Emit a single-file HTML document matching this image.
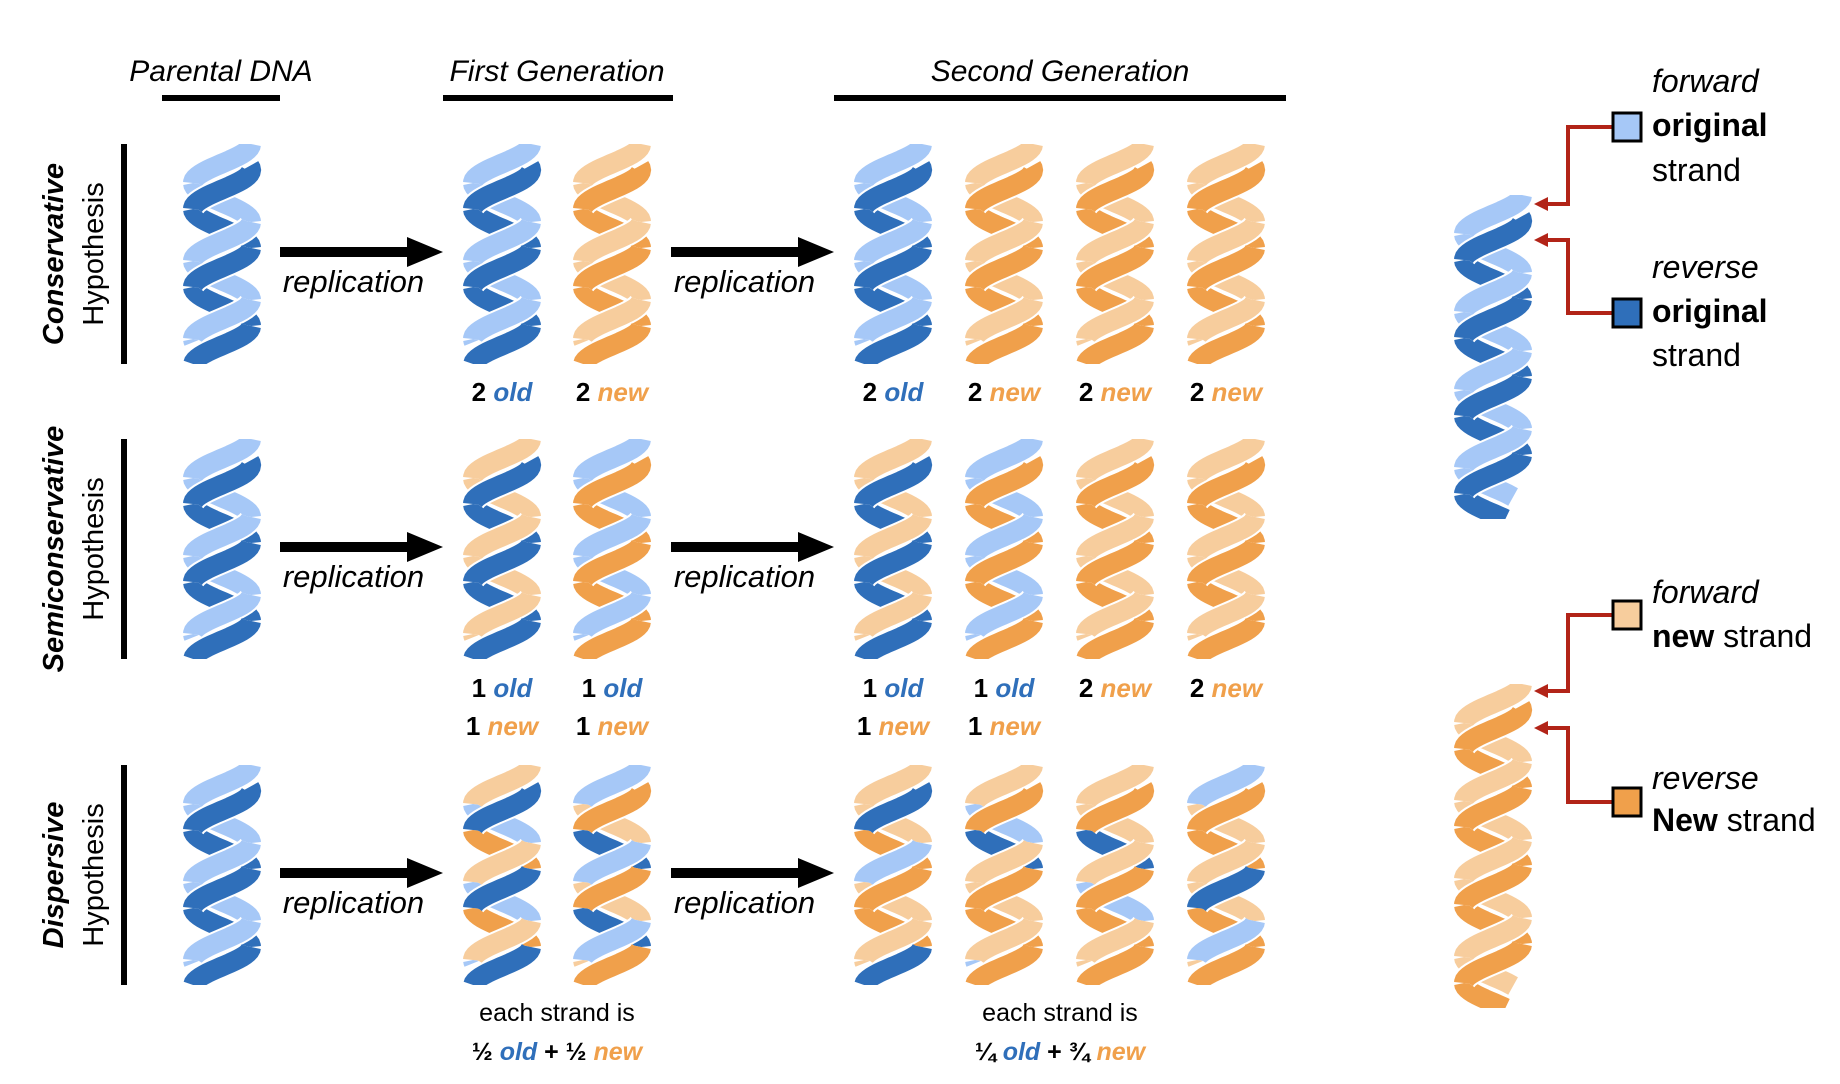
<!DOCTYPE html>
<html><head><meta charset="utf-8">
<style>
html,body{margin:0;padding:0;background:#fff;}
body{width:1840px;height:1084px;position:relative;overflow:hidden;font-family:"Liberation Sans",sans-serif;}
svg{position:absolute;left:0;top:0;}
</style></head>
<body>
<svg id="s" width="1840" height="1084" xmlns="http://www.w3.org/2000/svg" font-family="Liberation Sans, sans-serif">
<g font-style="italic" font-size="30" text-anchor="middle" fill="#000">
<text x="221" y="81">Parental DNA</text>
<text x="557" y="81">First Generation</text>
<text x="1060" y="81">Second Generation</text>
</g>
<g fill="#000">
<rect x="162" y="95" width="118" height="6"/>
<rect x="443" y="95" width="230" height="6"/>
<rect x="834" y="95" width="452" height="6"/>
<rect x="121" y="144" width="6" height="220"/>
<rect x="121" y="439" width="6" height="220"/>
<rect x="121" y="765" width="6" height="220"/>
</g>
<g font-size="29" text-anchor="middle">
<text transform="translate(63,254) rotate(-90)" font-weight="bold" font-style="italic">Conservative</text>
<text transform="translate(103,254) rotate(-90)">Hypothesis</text>
<text transform="translate(63,549) rotate(-90)" font-weight="bold" font-style="italic">Semiconservative</text>
<text transform="translate(103,549) rotate(-90)">Hypothesis</text>
<text transform="translate(63,875) rotate(-90)" font-weight="bold" font-style="italic">Dispersive</text>
<text transform="translate(103,875) rotate(-90)">Hypothesis</text>
</g>
<g id="arrows"></g>
<g id="helices"></g>
<g font-size="26" font-weight="bold" text-anchor="middle" id="labels"></g>
<g font-size="25" text-anchor="middle">
<text x="557" y="1021">each strand is</text>
<text x="1060" y="1021">each strand is</text>
<text x="557" y="1060" font-weight="bold">½ <tspan fill="#2f6fba" font-style="italic">old</tspan> + ½ <tspan fill="#f0a04b" font-style="italic">new</tspan></text>
<text x="1060" y="1060" font-weight="bold">¼ <tspan fill="#2f6fba" font-style="italic">old</tspan> + ¾ <tspan fill="#f0a04b" font-style="italic">new</tspan></text>
</g>
<!-- legend -->
<g stroke="#b22418" stroke-width="4" fill="none">
<polyline points="1612,127 1568,127 1568,204 1546,204"/>
<polyline points="1612,313 1568,313 1568,240 1546,240"/>
<polyline points="1612,615 1568,615 1568,691 1546,691"/>
<polyline points="1612,802 1568,802 1568,728 1546,728"/>
</g>
<g fill="#b22418">
<polygon points="1534,204 1548,197 1548,211"/>
<polygon points="1534,240 1548,233 1548,247"/>
<polygon points="1534,691 1548,684 1548,698"/>
<polygon points="1534,728 1548,721 1548,735"/>
</g>
<g stroke="#000" stroke-width="3">
<rect x="1613" y="113" width="28" height="28" fill="#a6c8f7"/>
<rect x="1613" y="299" width="28" height="28" fill="#2f6fba"/>
<rect x="1613" y="601" width="28" height="28" fill="#f7cd9d"/>
<rect x="1613" y="788" width="28" height="28" fill="#f0a04b"/>
</g>
<g font-size="32">
<text x="1652" y="92" font-style="italic">forward</text>
<text x="1652" y="136" font-weight="bold">original</text>
<text x="1652" y="181">strand</text>
<text x="1652" y="278" font-style="italic">reverse</text>
<text x="1652" y="322" font-weight="bold">original</text>
<text x="1652" y="366">strand</text>
<text x="1652" y="603" font-style="italic">forward</text>
<text x="1652" y="647"><tspan font-weight="bold">new</tspan> strand</text>
<text x="1652" y="789" font-style="italic">reverse</text>
<text x="1652" y="831"><tspan font-weight="bold">New</tspan> strand</text>
</g>
</svg>
<script>
var NS="http://www.w3.org/2000/svg";
var LB="#a6c8f7",DB="#2f6fba",LO="#f7cd9d",DO="#f0a04b";
var H=document.getElementById("helices");
function el(t,a,p){var e=document.createElementNS(NS,t);for(var k in a)e.setAttribute(k,a[k]);(p||H).appendChild(e);return e;}
function col(c,i){return Array.isArray(c)?c[i%c.length]:c;}
function helix(x,y,w,h,cA,cB){
  var P=78,sw=20,A=(w-sw)/2,cx=x+w/2,off=26;
  var segs=[];
  [[cA,0,y,y+h-22],[cB,off,y+22,y+h]].forEach(function(s){
    var c=s[0],o=s[1],ys=s[2],ye=s[3];
    var k=0;var start=ys;
    while(start<ye){
      var end=Math.min(y+o+(k+1)*P/2,ye);
      if(end>start+0.5){
        var pts=[];
        for(var yy=start;yy<=end+0.01;yy+=2){pts.push([cx+A*Math.cos(2*Math.PI*(yy-y-o)/P),yy]);}
        var last=pts[pts.length-1];if(last[1]<end){pts.push([cx+A*Math.cos(2*Math.PI*(end-y-o)/P),end]);}
        var dir=Math.cos(2*Math.PI*(end-y-o)/P)-Math.cos(2*Math.PI*(start-y-o)/P);
        segs.push({pts:pts,c:col(c,k),front:dir<0});
      }
      start=end;k++;
    }
  });
  var g=el("g",{});
  var cp="c"+Math.round(x)+"_"+Math.round(y);
  var cl=el("clipPath",{id:cp},g);el("rect",{x:x-5,y:y,width:w+10,height:h},cl);
  var gg=el("g",{"clip-path":"url(#"+cp+")"},g);
  [false,true].forEach(function(f){
    segs.forEach(function(s){
      if(s.front!==f)return;
      var d="M"+s.pts.map(function(p){return p[0].toFixed(1)+","+p[1].toFixed(1);}).join("L");
      if(f) el("path",{d:d,fill:"none",stroke:"#fff","stroke-width":sw+4,"stroke-linecap":"butt"},gg);
      el("path",{d:d,fill:"none",stroke:s.c,"stroke-width":sw,"stroke-linecap":"butt"},gg);
    });
  });
}
var xs=[463,573,854,965,1076,1187],W=78;
var rows=[144,439,765];
rows.forEach(function(ry){helix(183,ry,W,220,LB,DB);});
helix(463,144,W,220,LB,DB);helix(573,144,W,220,LO,DO);
helix(854,144,W,220,LB,DB);helix(965,144,W,220,LO,DO);helix(1076,144,W,220,LO,DO);helix(1187,144,W,220,LO,DO);
helix(463,439,W,220,LO,DB);helix(573,439,W,220,LB,DO);
helix(854,439,W,220,LO,DB);helix(965,439,W,220,LB,DO);helix(1076,439,W,220,LO,DO);helix(1187,439,W,220,LO,DO);
helix(463,765,W,220,[LO,LB],[DB,DO]);helix(573,765,W,220,[LB,LO],[DO,DB]);
helix(854,765,W,220,[LO,LO,LB,LO],[DB,DO,DO,DO]);
helix(965,765,W,220,[LO,LB,LO,LO],[DO,DB,DO,DO]);
helix(1076,765,W,220,[LO,LO,LO,LB],[DO,DB,DO,DO]);
helix(1187,765,W,220,[LB,LO,LO,LO],[DO,DO,DB,DO]);
helix(1454,195,W,324,LB,DB);helix(1454,684,W,324,LO,DO);
var AG=document.getElementById("arrows");
rows.forEach(function(ry){
  [[280,443],[671,834]].forEach(function(a){
    var yc=ry+108;
    el("rect",{x:a[0],y:yc-5,width:a[1]-a[0]-34,height:10,fill:"#000"},AG);
    el("polygon",{points:(a[1]-36)+","+(yc-15)+" "+a[1]+","+yc+" "+(a[1]-36)+","+(yc+15),fill:"#000"},AG);
    var t=el("text",{x:(a[0]+a[1])/2-8,y:yc+40,"text-anchor":"middle","font-size":"31","font-style":"italic"},AG);t.textContent="replication";
  });
});
var L=document.getElementById("labels");
function lab(cx,y,n,w){var t=el("text",{x:cx,y:y},L);
  t.appendChild(document.createTextNode(n+" "));
  var s=el("tspan",{fill:w=="old"?DB:DO,"font-style":"italic"},t);s.textContent=w;}
var cxs=xs.map(function(v){return v+39;});
lab(cxs[0],401,2,"old");lab(cxs[1],401,2,"new");lab(cxs[2],401,2,"old");lab(cxs[3],401,2,"new");lab(cxs[4],401,2,"new");lab(cxs[5],401,2,"new");
lab(cxs[0],697,1,"old");lab(cxs[1],697,1,"old");lab(cxs[2],697,1,"old");lab(cxs[3],697,1,"old");lab(cxs[4],697,2,"new");lab(cxs[5],697,2,"new");
lab(cxs[0],735,1,"new");lab(cxs[1],735,1,"new");lab(cxs[2],735,1,"new");lab(cxs[3],735,1,"new");
</script>
</body></html>
